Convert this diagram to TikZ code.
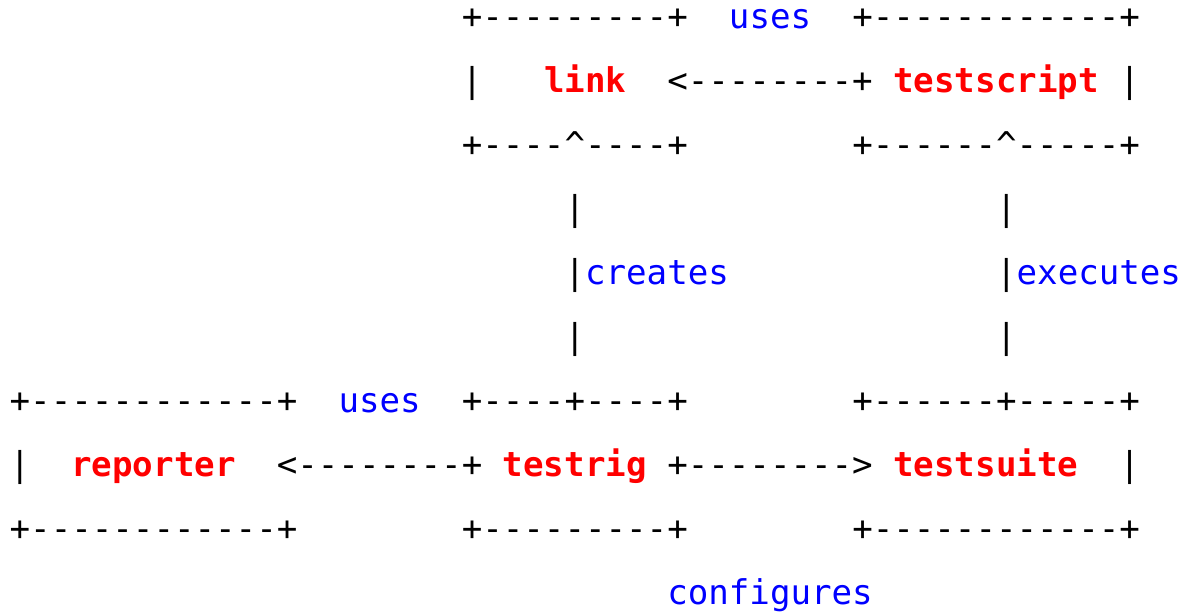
\documentclass[tikz,border=0pt]{standalone}
\usepackage{fontspec}
\setmonofont{DejaVu Sans Mono}
\definecolor{lbl}{RGB}{0,0,255}
\definecolor{cmp}{RGB}{255,0,0}
\begin{document}
\begin{tikzpicture}[
  txt/.style={inner sep=0pt, outer sep=0pt, anchor=base west,
    font=\ttfamily\fontsize{34.13pt}{40pt}\selectfont, text=black},
  lab/.style={txt, text=lbl},
  comp/.style={txt, text=cmp, font=\ttfamily\bfseries\fontsize{34.13pt}{40pt}\selectfont}
]
\useasboundingbox (0pt,0pt) rectangle (1184pt,-613pt);
\begin{scope}[shift={(9.7pt,-28pt)}, x=20.55pt, y=-64pt]
% row 0
\node[txt] (linktop) at (22,0) {+---------+};
\node[lab] (usesA) at (35,0) {uses};
\node[txt] (scripttop) at (41,0) {+------------+};
% row 1
\node[txt] (linkleft) at (22,1) {|};
\node[comp] (link) at (26,1) {link};
\node[txt] (arrowA) at (32,1) {<--------+};
\node[comp] (testscript) at (43,1) {testscript};
\node[txt] (scriptright) at (54,1) {|};
% row 2
\node[txt] (linkbot) at (22,2) {+----\^{}----+};
\node[txt] (scriptbot) at (41,2) {+------\^{}-----+};
% row 3-5
\node[txt] (vA3) at (27,3) {|};
\node[txt] (vB3) at (48,3) {|};
\node[txt] (vA4) at (27,4) {|};
\node[lab] (creates) at (28,4) {creates};
\node[txt] (vB4) at (48,4) {|};
\node[lab] (executes) at (49,4) {executes};
\node[txt] (vA5) at (27,5) {|};
\node[txt] (vB5) at (48,5) {|};
% row 6
\node[txt] (reptop) at (0,6) {+------------+};
\node[lab] (usesB) at (16,6) {uses};
\node[txt] (rigtop) at (22,6) {+----+----+};
\node[txt] (suitetop) at (41,6) {+------+-----+};
% row 7
\node[txt] (repleft) at (0,7) {|};
\node[comp] (reporter) at (3,7) {reporter};
\node[txt] (arrowB) at (13,7) {<--------+};
\node[comp] (testrig) at (24,7) {testrig};
\node[txt] (arrowC) at (32,7) {+-------->};
\node[comp] (testsuite) at (43,7) {testsuite};
\node[txt] (suiteright) at (54,7) {|};
% row 8
\node[txt] (repbot) at (0,8) {+------------+};
\node[txt] (rigbot) at (22,8) {+---------+};
\node[txt] (suitebot) at (41,8) {+------------+};
% row 9
\node[lab] (configures) at (32,9) {configures};
\end{scope}
\end{tikzpicture}
\end{document}
